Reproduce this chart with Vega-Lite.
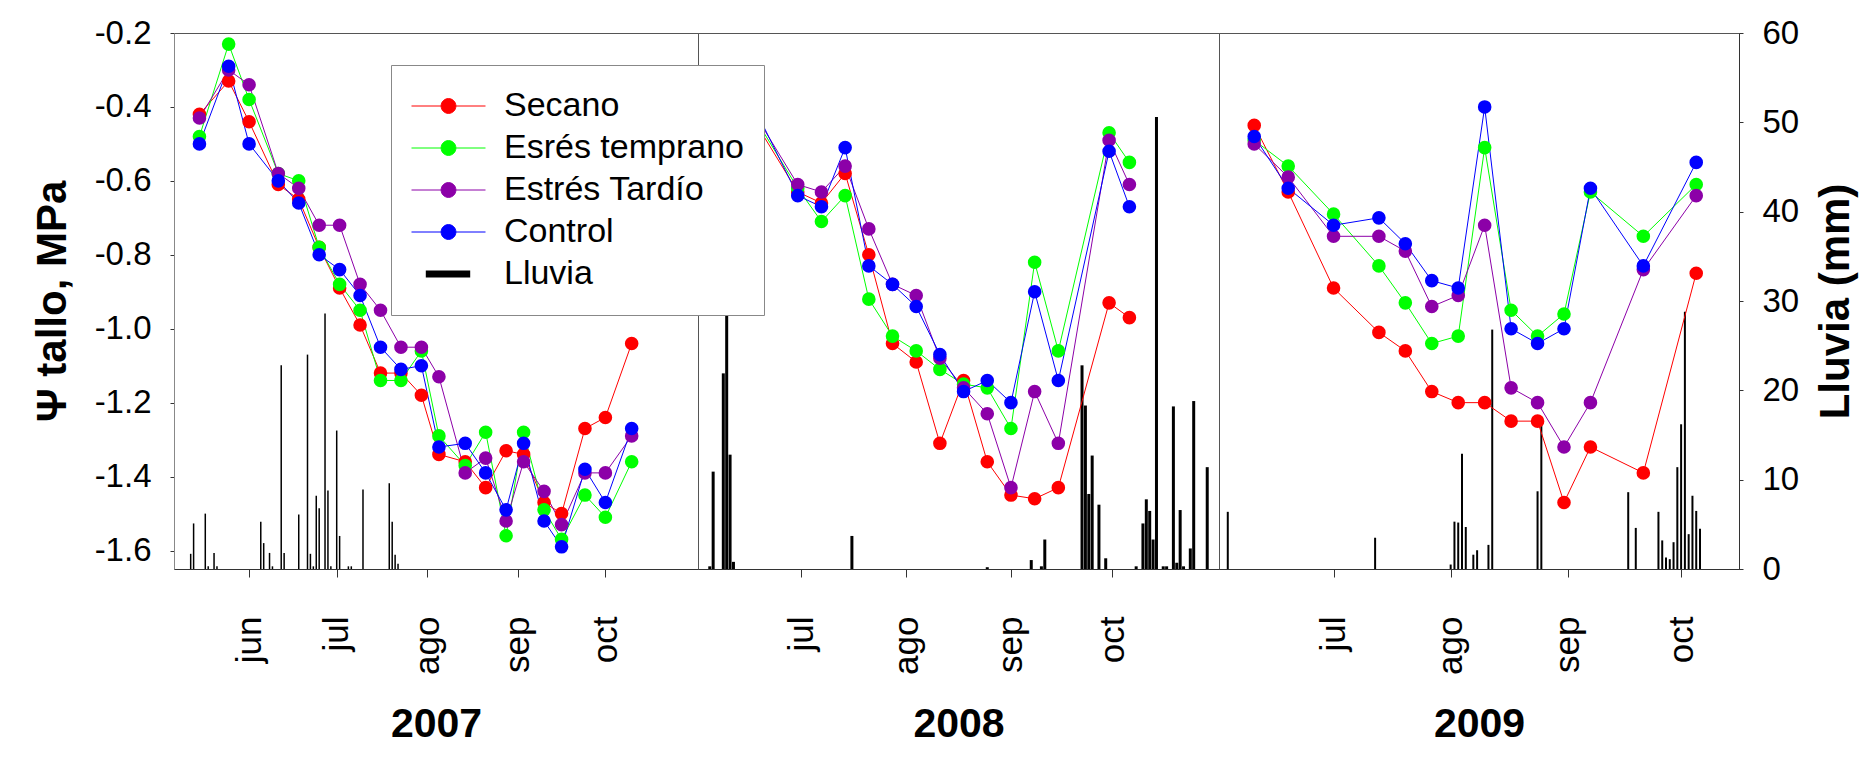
{
"$schema": "https://vega.github.io/schema/vega-lite/v6.json",
"padding": {"left": 30, "top": 16, "right": 4, "bottom": 4},
"background": "#ffffff",
"spacing": 0,
"bounds": "flush",
"datasets": {
"psi2007": [
{"fecha":"2007-05-15","serie":"Secano","psi":-0.42},{"fecha":"2007-05-25","serie":"Secano","psi":-0.33},{"fecha":"2007-06-01","serie":"Secano","psi":-0.44},{"fecha":"2007-06-11","serie":"Secano","psi":-0.61},{"fecha":"2007-06-18","serie":"Secano","psi":-0.65},{"fecha":"2007-06-25","serie":"Secano","psi":-0.78},{"fecha":"2007-07-02","serie":"Secano","psi":-0.89},{"fecha":"2007-07-09","serie":"Secano","psi":-0.99},{"fecha":"2007-07-16","serie":"Secano","psi":-1.12},{"fecha":"2007-07-23","serie":"Secano","psi":-1.12},{"fecha":"2007-07-30","serie":"Secano","psi":-1.18},{"fecha":"2007-08-05","serie":"Secano","psi":-1.34},{"fecha":"2007-08-14","serie":"Secano","psi":-1.36},{"fecha":"2007-08-21","serie":"Secano","psi":-1.43},{"fecha":"2007-08-28","serie":"Secano","psi":-1.33},{"fecha":"2007-09-03","serie":"Secano","psi":-1.34},{"fecha":"2007-09-10","serie":"Secano","psi":-1.47},{"fecha":"2007-09-16","serie":"Secano","psi":-1.50},{"fecha":"2007-09-24","serie":"Secano","psi":-1.27},{"fecha":"2007-10-01","serie":"Secano","psi":-1.24},{"fecha":"2007-10-10","serie":"Secano","psi":-1.04},
{"fecha":"2007-05-15","serie":"Esrés temprano","psi":-0.48},{"fecha":"2007-05-25","serie":"Esrés temprano","psi":-0.23},{"fecha":"2007-06-01","serie":"Esrés temprano","psi":-0.38},{"fecha":"2007-06-11","serie":"Esrés temprano","psi":-0.58},{"fecha":"2007-06-18","serie":"Esrés temprano","psi":-0.60},{"fecha":"2007-06-25","serie":"Esrés temprano","psi":-0.78},{"fecha":"2007-07-02","serie":"Esrés temprano","psi":-0.88},{"fecha":"2007-07-09","serie":"Esrés temprano","psi":-0.95},{"fecha":"2007-07-16","serie":"Esrés temprano","psi":-1.14},{"fecha":"2007-07-23","serie":"Esrés temprano","psi":-1.14},{"fecha":"2007-07-30","serie":"Esrés temprano","psi":-1.06},{"fecha":"2007-08-05","serie":"Esrés temprano","psi":-1.29},{"fecha":"2007-08-14","serie":"Esrés temprano","psi":-1.37},{"fecha":"2007-08-21","serie":"Esrés temprano","psi":-1.28},{"fecha":"2007-08-28","serie":"Esrés temprano","psi":-1.56},{"fecha":"2007-09-03","serie":"Esrés temprano","psi":-1.28},{"fecha":"2007-09-10","serie":"Esrés temprano","psi":-1.49},{"fecha":"2007-09-16","serie":"Esrés temprano","psi":-1.57},{"fecha":"2007-09-24","serie":"Esrés temprano","psi":-1.45},{"fecha":"2007-10-01","serie":"Esrés temprano","psi":-1.51},{"fecha":"2007-10-10","serie":"Esrés temprano","psi":-1.36},
{"fecha":"2007-05-15","serie":"Estrés Tardío","psi":-0.43},{"fecha":"2007-05-25","serie":"Estrés Tardío","psi":-0.30},{"fecha":"2007-06-01","serie":"Estrés Tardío","psi":-0.34},{"fecha":"2007-06-11","serie":"Estrés Tardío","psi":-0.58},{"fecha":"2007-06-18","serie":"Estrés Tardío","psi":-0.62},{"fecha":"2007-06-25","serie":"Estrés Tardío","psi":-0.72},{"fecha":"2007-07-02","serie":"Estrés Tardío","psi":-0.72},{"fecha":"2007-07-09","serie":"Estrés Tardío","psi":-0.88},{"fecha":"2007-07-16","serie":"Estrés Tardío","psi":-0.95},{"fecha":"2007-07-23","serie":"Estrés Tardío","psi":-1.05},{"fecha":"2007-07-30","serie":"Estrés Tardío","psi":-1.05},{"fecha":"2007-08-05","serie":"Estrés Tardío","psi":-1.13},{"fecha":"2007-08-14","serie":"Estrés Tardío","psi":-1.39},{"fecha":"2007-08-21","serie":"Estrés Tardío","psi":-1.35},{"fecha":"2007-08-28","serie":"Estrés Tardío","psi":-1.52},{"fecha":"2007-09-03","serie":"Estrés Tardío","psi":-1.36},{"fecha":"2007-09-10","serie":"Estrés Tardío","psi":-1.44},{"fecha":"2007-09-16","serie":"Estrés Tardío","psi":-1.53},{"fecha":"2007-09-24","serie":"Estrés Tardío","psi":-1.39},{"fecha":"2007-10-01","serie":"Estrés Tardío","psi":-1.39},{"fecha":"2007-10-10","serie":"Estrés Tardío","psi":-1.29},
{"fecha":"2007-05-15","serie":"Control","psi":-0.50},{"fecha":"2007-05-25","serie":"Control","psi":-0.29},{"fecha":"2007-06-01","serie":"Control","psi":-0.50},{"fecha":"2007-06-11","serie":"Control","psi":-0.60},{"fecha":"2007-06-18","serie":"Control","psi":-0.66},{"fecha":"2007-06-25","serie":"Control","psi":-0.80},{"fecha":"2007-07-02","serie":"Control","psi":-0.84},{"fecha":"2007-07-09","serie":"Control","psi":-0.91},{"fecha":"2007-07-16","serie":"Control","psi":-1.05},{"fecha":"2007-07-23","serie":"Control","psi":-1.11},{"fecha":"2007-07-30","serie":"Control","psi":-1.10},{"fecha":"2007-08-05","serie":"Control","psi":-1.32},{"fecha":"2007-08-14","serie":"Control","psi":-1.31},{"fecha":"2007-08-21","serie":"Control","psi":-1.39},{"fecha":"2007-08-28","serie":"Control","psi":-1.49},{"fecha":"2007-09-03","serie":"Control","psi":-1.31},{"fecha":"2007-09-10","serie":"Control","psi":-1.52},{"fecha":"2007-09-16","serie":"Control","psi":-1.59},{"fecha":"2007-09-24","serie":"Control","psi":-1.38},{"fecha":"2007-10-01","serie":"Control","psi":-1.47},{"fecha":"2007-10-10","serie":"Control","psi":-1.27}
],
"psi2008": [
{"fecha":"2008-06-16","serie":"Secano","psi":-0.42},{"fecha":"2008-06-30","serie":"Secano","psi":-0.63},{"fecha":"2008-07-07","serie":"Secano","psi":-0.66},{"fecha":"2008-07-14","serie":"Secano","psi":-0.58},{"fecha":"2008-07-21","serie":"Secano","psi":-0.80},{"fecha":"2008-07-28","serie":"Secano","psi":-1.04},{"fecha":"2008-08-04","serie":"Secano","psi":-1.09},{"fecha":"2008-08-11","serie":"Secano","psi":-1.31},{"fecha":"2008-08-18","serie":"Secano","psi":-1.14},{"fecha":"2008-08-25","serie":"Secano","psi":-1.36},{"fecha":"2008-09-01","serie":"Secano","psi":-1.45},{"fecha":"2008-09-08","serie":"Secano","psi":-1.46},{"fecha":"2008-09-15","serie":"Secano","psi":-1.43},{"fecha":"2008-09-30","serie":"Secano","psi":-0.93},{"fecha":"2008-10-06","serie":"Secano","psi":-0.97},
{"fecha":"2008-06-16","serie":"Esrés temprano","psi":-0.41},{"fecha":"2008-06-30","serie":"Esrés temprano","psi":-0.62},{"fecha":"2008-07-07","serie":"Esrés temprano","psi":-0.71},{"fecha":"2008-07-14","serie":"Esrés temprano","psi":-0.64},{"fecha":"2008-07-21","serie":"Esrés temprano","psi":-0.92},{"fecha":"2008-07-28","serie":"Esrés temprano","psi":-1.02},{"fecha":"2008-08-04","serie":"Esrés temprano","psi":-1.06},{"fecha":"2008-08-11","serie":"Esrés temprano","psi":-1.11},{"fecha":"2008-08-18","serie":"Esrés temprano","psi":-1.15},{"fecha":"2008-08-25","serie":"Esrés temprano","psi":-1.16},{"fecha":"2008-09-01","serie":"Esrés temprano","psi":-1.27},{"fecha":"2008-09-08","serie":"Esrés temprano","psi":-0.82},{"fecha":"2008-09-15","serie":"Esrés temprano","psi":-1.06},{"fecha":"2008-09-30","serie":"Esrés temprano","psi":-0.47},{"fecha":"2008-10-06","serie":"Esrés temprano","psi":-0.55},
{"fecha":"2008-06-16","serie":"Estrés Tardío","psi":-0.40},{"fecha":"2008-06-30","serie":"Estrés Tardío","psi":-0.61},{"fecha":"2008-07-07","serie":"Estrés Tardío","psi":-0.63},{"fecha":"2008-07-14","serie":"Estrés Tardío","psi":-0.56},{"fecha":"2008-07-21","serie":"Estrés Tardío","psi":-0.73},{"fecha":"2008-07-28","serie":"Estrés Tardío","psi":-0.88},{"fecha":"2008-08-04","serie":"Estrés Tardío","psi":-0.91},{"fecha":"2008-08-11","serie":"Estrés Tardío","psi":-1.08},{"fecha":"2008-08-18","serie":"Estrés Tardío","psi":-1.16},{"fecha":"2008-08-25","serie":"Estrés Tardío","psi":-1.23},{"fecha":"2008-09-01","serie":"Estrés Tardío","psi":-1.43},{"fecha":"2008-09-08","serie":"Estrés Tardío","psi":-1.17},{"fecha":"2008-09-15","serie":"Estrés Tardío","psi":-1.31},{"fecha":"2008-09-30","serie":"Estrés Tardío","psi":-0.49},{"fecha":"2008-10-06","serie":"Estrés Tardío","psi":-0.61},
{"fecha":"2008-06-16","serie":"Control","psi":-0.38},{"fecha":"2008-06-30","serie":"Control","psi":-0.64},{"fecha":"2008-07-07","serie":"Control","psi":-0.67},{"fecha":"2008-07-14","serie":"Control","psi":-0.51},{"fecha":"2008-07-21","serie":"Control","psi":-0.83},{"fecha":"2008-07-28","serie":"Control","psi":-0.88},{"fecha":"2008-08-04","serie":"Control","psi":-0.94},{"fecha":"2008-08-11","serie":"Control","psi":-1.07},{"fecha":"2008-08-18","serie":"Control","psi":-1.17},{"fecha":"2008-08-25","serie":"Control","psi":-1.14},{"fecha":"2008-09-01","serie":"Control","psi":-1.20},{"fecha":"2008-09-08","serie":"Control","psi":-0.90},{"fecha":"2008-09-15","serie":"Control","psi":-1.14},{"fecha":"2008-09-30","serie":"Control","psi":-0.52},{"fecha":"2008-10-06","serie":"Control","psi":-0.67}
],
"psi2009": [
{"fecha":"2009-06-10","serie":"Secano","psi":-0.45},{"fecha":"2009-06-19","serie":"Secano","psi":-0.63},{"fecha":"2009-07-01","serie":"Secano","psi":-0.89},{"fecha":"2009-07-13","serie":"Secano","psi":-1.01},{"fecha":"2009-07-20","serie":"Secano","psi":-1.06},{"fecha":"2009-07-27","serie":"Secano","psi":-1.17},{"fecha":"2009-08-03","serie":"Secano","psi":-1.20},{"fecha":"2009-08-10","serie":"Secano","psi":-1.20},{"fecha":"2009-08-17","serie":"Secano","psi":-1.25},{"fecha":"2009-08-24","serie":"Secano","psi":-1.25},{"fecha":"2009-08-31","serie":"Secano","psi":-1.47},{"fecha":"2009-09-07","serie":"Secano","psi":-1.32},{"fecha":"2009-09-21","serie":"Secano","psi":-1.39},{"fecha":"2009-10-05","serie":"Secano","psi":-0.85},
{"fecha":"2009-06-10","serie":"Esrés temprano","psi":-0.49},{"fecha":"2009-06-19","serie":"Esrés temprano","psi":-0.56},{"fecha":"2009-07-01","serie":"Esrés temprano","psi":-0.69},{"fecha":"2009-07-13","serie":"Esrés temprano","psi":-0.83},{"fecha":"2009-07-20","serie":"Esrés temprano","psi":-0.93},{"fecha":"2009-07-27","serie":"Esrés temprano","psi":-1.04},{"fecha":"2009-08-03","serie":"Esrés temprano","psi":-1.02},{"fecha":"2009-08-10","serie":"Esrés temprano","psi":-0.51},{"fecha":"2009-08-17","serie":"Esrés temprano","psi":-0.95},{"fecha":"2009-08-24","serie":"Esrés temprano","psi":-1.02},{"fecha":"2009-08-31","serie":"Esrés temprano","psi":-0.96},{"fecha":"2009-09-07","serie":"Esrés temprano","psi":-0.63},{"fecha":"2009-09-21","serie":"Esrés temprano","psi":-0.75},{"fecha":"2009-10-05","serie":"Esrés temprano","psi":-0.61},
{"fecha":"2009-06-10","serie":"Estrés Tardío","psi":-0.50},{"fecha":"2009-06-19","serie":"Estrés Tardío","psi":-0.59},{"fecha":"2009-07-01","serie":"Estrés Tardío","psi":-0.75},{"fecha":"2009-07-13","serie":"Estrés Tardío","psi":-0.75},{"fecha":"2009-07-20","serie":"Estrés Tardío","psi":-0.79},{"fecha":"2009-07-27","serie":"Estrés Tardío","psi":-0.94},{"fecha":"2009-08-03","serie":"Estrés Tardío","psi":-0.91},{"fecha":"2009-08-10","serie":"Estrés Tardío","psi":-0.72},{"fecha":"2009-08-17","serie":"Estrés Tardío","psi":-1.16},{"fecha":"2009-08-24","serie":"Estrés Tardío","psi":-1.20},{"fecha":"2009-08-31","serie":"Estrés Tardío","psi":-1.32},{"fecha":"2009-09-07","serie":"Estrés Tardío","psi":-1.20},{"fecha":"2009-09-21","serie":"Estrés Tardío","psi":-0.84},{"fecha":"2009-10-05","serie":"Estrés Tardío","psi":-0.64},
{"fecha":"2009-06-10","serie":"Control","psi":-0.48},{"fecha":"2009-06-19","serie":"Control","psi":-0.62},{"fecha":"2009-07-01","serie":"Control","psi":-0.72},{"fecha":"2009-07-13","serie":"Control","psi":-0.70},{"fecha":"2009-07-20","serie":"Control","psi":-0.77},{"fecha":"2009-07-27","serie":"Control","psi":-0.87},{"fecha":"2009-08-03","serie":"Control","psi":-0.89},{"fecha":"2009-08-10","serie":"Control","psi":-0.40},{"fecha":"2009-08-17","serie":"Control","psi":-1.00},{"fecha":"2009-08-24","serie":"Control","psi":-1.04},{"fecha":"2009-08-31","serie":"Control","psi":-1.00},{"fecha":"2009-09-07","serie":"Control","psi":-0.62},{"fecha":"2009-09-21","serie":"Control","psi":-0.83},{"fecha":"2009-10-05","serie":"Control","psi":-0.55}
],
"lluvia2007": [
{"fecha":"2007-05-12","mm":1.7},{"fecha":"2007-05-13","mm":5.1},{"fecha":"2007-05-17","mm":6.2},{"fecha":"2007-05-18","mm":0.3},{"fecha":"2007-05-20","mm":1.8},{"fecha":"2007-05-21","mm":0.3},{"fecha":"2007-06-05","mm":5.3},{"fecha":"2007-06-06","mm":2.9},{"fecha":"2007-06-08","mm":1.8},{"fecha":"2007-06-09","mm":0.3},{"fecha":"2007-06-12","mm":22.8},{"fecha":"2007-06-13","mm":1.8},{"fecha":"2007-06-18","mm":6.1},{"fecha":"2007-06-21","mm":24.0},{"fecha":"2007-06-22","mm":1.7},{"fecha":"2007-06-23","mm":0.3},{"fecha":"2007-06-24","mm":8.2},{"fecha":"2007-06-25","mm":6.8},{"fecha":"2007-06-27","mm":28.6},{"fecha":"2007-06-28","mm":8.8},{"fecha":"2007-06-29","mm":0.3},{"fecha":"2007-07-01","mm":15.5},{"fecha":"2007-07-02","mm":3.7},{"fecha":"2007-07-05","mm":0.3},{"fecha":"2007-07-06","mm":0.3},{"fecha":"2007-07-10","mm":8.9},{"fecha":"2007-07-19","mm":9.6},{"fecha":"2007-07-20","mm":5.3},{"fecha":"2007-07-21","mm":1.6},{"fecha":"2007-07-22","mm":0.6}
],
"lluvia2008": [
{"fecha":"2008-06-04","mm":0.3},{"fecha":"2008-06-05","mm":10.9},{"fecha":"2008-06-08","mm":21.9},{"fecha":"2008-06-09","mm":33.0},{"fecha":"2008-06-10","mm":12.8},{"fecha":"2008-06-11","mm":0.8},{"fecha":"2008-07-16","mm":3.7},{"fecha":"2008-08-25","mm":0.2},{"fecha":"2008-09-07","mm":1.0},{"fecha":"2008-09-10","mm":0.3},{"fecha":"2008-09-11","mm":3.3},{"fecha":"2008-09-22","mm":22.8},{"fecha":"2008-09-23","mm":18.3},{"fecha":"2008-09-24","mm":8.4},{"fecha":"2008-09-25","mm":12.7},{"fecha":"2008-09-27","mm":7.2},{"fecha":"2008-09-29","mm":1.2},{"fecha":"2008-10-08","mm":0.3},{"fecha":"2008-10-10","mm":5.1},{"fecha":"2008-10-11","mm":7.8},{"fecha":"2008-10-12","mm":6.5},{"fecha":"2008-10-13","mm":3.3},{"fecha":"2008-10-14","mm":50.6},{"fecha":"2008-10-16","mm":0.3},{"fecha":"2008-10-17","mm":0.3},{"fecha":"2008-10-19","mm":18.2},{"fecha":"2008-10-20","mm":0.7},{"fecha":"2008-10-21","mm":6.6},{"fecha":"2008-10-22","mm":0.3},{"fecha":"2008-10-24","mm":2.3},{"fecha":"2008-10-25","mm":18.8},{"fecha":"2008-10-29","mm":11.4}
],
"lluvia2009": [
{"fecha":"2009-06-03","mm":6.4},{"fecha":"2009-07-12","mm":3.5},{"fecha":"2009-08-01","mm":0.5},{"fecha":"2009-08-02","mm":5.3},{"fecha":"2009-08-03","mm":5.2},{"fecha":"2009-08-04","mm":12.9},{"fecha":"2009-08-05","mm":4.7},{"fecha":"2009-08-07","mm":1.6},{"fecha":"2009-08-08","mm":2.1},{"fecha":"2009-08-11","mm":2.7},{"fecha":"2009-08-12","mm":26.8},{"fecha":"2009-08-24","mm":8.7},{"fecha":"2009-08-25","mm":16.7},{"fecha":"2009-09-17","mm":8.6},{"fecha":"2009-09-19","mm":4.6},{"fecha":"2009-09-25","mm":6.4},{"fecha":"2009-09-26","mm":3.2},{"fecha":"2009-09-27","mm":1.3},{"fecha":"2009-09-28","mm":1.1},{"fecha":"2009-09-29","mm":3.0},{"fecha":"2009-09-30","mm":11.4},{"fecha":"2009-10-01","mm":16.2},{"fecha":"2009-10-02","mm":28.8},{"fecha":"2009-10-03","mm":3.9},{"fecha":"2009-10-04","mm":8.2},{"fecha":"2009-10-05","mm":6.5},{"fecha":"2009-10-06","mm":4.5}
]
},
"hconcat": [
{
"width": 524, "height": 536,
"layer": [
{"data": {"name": "lluvia2007"}, "mark": {"type": "bar", "width": 1.5, "color": "#000000"},
"encoding": {
"x": {"field": "fecha", "type": "temporal", "scale": {"type": "utc", "nice": false, "domain": [{"year": 2007, "month": 5, "date": 8, "utc": true}, {"year": 2007, "month": 10, "date": 31, "utc": true}]},
"axis": {"values": [{"year": 2007, "month": 6, "date": 1, "utc": true}, {"year": 2007, "month": 7, "date": 1, "utc": true}, {"year": 2007, "month": 8, "date": 1, "utc": true}, {"year": 2007, "month": 9, "date": 1, "utc": true}, {"year": 2007, "month": 10, "date": 1, "utc": true}], "labelExpr": "['ene','feb','mar','abr','may','jun','jul','ago','sep','oct','nov','dic'][utcmonth(datum.value)]", "labelAngle": 270, "labelAlign": "right", "labelBaseline": "middle", "labelFontSize": 35, "labelPadding": 39, "tickSize": 8, "title": "2007", "titleFontSize": 41, "titleFontWeight": "bold", "titlePadding": 30}},
"y": {"field": "mm", "type": "quantitative", "scale": {"domain": [0, 60], "nice": false}, "axis": null},
"opacity": {"datum": "Lluvia", "type": "nominal", "scale": {"type": "ordinal", "domain": ["Lluvia"], "range": [1]},
"legend": {"title": null, "orient": "none", "legendX": 237, "legendY": 236, "padding": 0, "symbolType": "M-0.6,-0.095H0.6V0.095H-0.6Z", "symbolSize": 5476, "symbolStrokeWidth": 0, "clipHeight": 10, "labelExpr": "''", "labelOffset": 0, "zindex": 2}}}},
{"data": {"name": "psi2007"},
"layer": [
{"mark": {"type": "line", "strokeWidth": 1},
"encoding": {
"x": {"field": "fecha", "type": "temporal", "scale": {"type": "utc", "nice": false, "domain": [{"year": 2007, "month": 5, "date": 8, "utc": true}, {"year": 2007, "month": 10, "date": 31, "utc": true}]},
"axis": {"values": [{"year": 2007, "month": 6, "date": 1, "utc": true}, {"year": 2007, "month": 7, "date": 1, "utc": true}, {"year": 2007, "month": 8, "date": 1, "utc": true}, {"year": 2007, "month": 9, "date": 1, "utc": true}, {"year": 2007, "month": 10, "date": 1, "utc": true}], "labelExpr": "['ene','feb','mar','abr','may','jun','jul','ago','sep','oct','nov','dic'][utcmonth(datum.value)]", "labelAngle": 270, "labelAlign": "right", "labelBaseline": "middle", "labelFontSize": 35, "labelPadding": 39, "tickSize": 8, "title": "2007", "titleFontSize": 41, "titleFontWeight": "bold", "titlePadding": 30}},
"y": {"field": "psi", "type": "quantitative", "scale": {"domain": [-1.65, -0.2], "nice": false, "zero": false},
"axis": {"orient": "left", "values": [-1.6, -1.4, -1.2, -1.0, -0.8, -0.6, -0.4, -0.2], "labelExpr": "(datum.value < 0 ? '-' : '') + format(abs(datum.value), '.1f')", "labelFontSize": 33, "tickSize": 4, "labelPadding": 19, "title": "Ψ tallo, MPa", "titleFontSize": 42, "titleFontWeight": "bold", "titlePadding": 20, "domainColor": "#888888"}},
"color": {"field": "serie", "type": "nominal", "scale": {"domain": ["Secano", "Esrés temprano", "Estrés Tardío", "Control", "Lluvia"], "range": ["#ff0000", "#00ff00", "#8c00a8", "#0000ff", "transparent"]},
"legend": {"title": null, "orient": "none", "legendX": 217, "legendY": 32, "padding": 20, "strokeColor": "#888888", "fillColor": "#ffffff", "symbolType": "M-1,0H1M-0.2,0A0.2,0.2,0,1,1,0.2,0A0.2,0.2,0,1,1,-0.2,0Z", "symbolSize": 5476, "symbolStrokeWidth": 1, "labelFontSize": 34, "labelFont": "Liberation Sans", "labelColor": "#000000", "labelOffset": 18, "clipHeight": 42, "rowPadding": 0, "labelLimit": 500, "zindex": 1}}}},
{"mark": {"type": "point", "filled": true, "size": 185, "opacity": 1},
"encoding": {
"x": {"field": "fecha", "type": "temporal", "scale": {"type": "utc", "nice": false, "domain": [{"year": 2007, "month": 5, "date": 8, "utc": true}, {"year": 2007, "month": 10, "date": 31, "utc": true}]},
"axis": {"values": [{"year": 2007, "month": 6, "date": 1, "utc": true}, {"year": 2007, "month": 7, "date": 1, "utc": true}, {"year": 2007, "month": 8, "date": 1, "utc": true}, {"year": 2007, "month": 9, "date": 1, "utc": true}, {"year": 2007, "month": 10, "date": 1, "utc": true}], "labelExpr": "['ene','feb','mar','abr','may','jun','jul','ago','sep','oct','nov','dic'][utcmonth(datum.value)]", "labelAngle": 270, "labelAlign": "right", "labelBaseline": "middle", "labelFontSize": 35, "labelPadding": 39, "tickSize": 8, "title": "2007", "titleFontSize": 41, "titleFontWeight": "bold", "titlePadding": 30}},
"y": {"field": "psi", "type": "quantitative", "scale": {"domain": [-1.65, -0.2], "nice": false, "zero": false},
"axis": {"orient": "left", "values": [-1.6, -1.4, -1.2, -1.0, -0.8, -0.6, -0.4, -0.2], "labelExpr": "(datum.value < 0 ? '-' : '') + format(abs(datum.value), '.1f')", "labelFontSize": 33, "tickSize": 4, "labelPadding": 19, "title": "Ψ tallo, MPa", "titleFontSize": 42, "titleFontWeight": "bold", "titlePadding": 20, "domainColor": "#888888"}},
"color": {"field": "serie", "type": "nominal", "scale": {"domain": ["Secano", "Esrés temprano", "Estrés Tardío", "Control", "Lluvia"], "range": ["#ff0000", "#00ff00", "#8c00a8", "#0000ff", "transparent"]},
"legend": {"title": null, "orient": "none", "legendX": 217, "legendY": 32, "padding": 20, "strokeColor": "#888888", "fillColor": "#ffffff", "symbolType": "M-1,0H1M-0.2,0A0.2,0.2,0,1,1,0.2,0A0.2,0.2,0,1,1,-0.2,0Z", "symbolSize": 5476, "symbolStrokeWidth": 1, "labelFontSize": 34, "labelFont": "Liberation Sans", "labelColor": "#000000", "labelOffset": 18, "clipHeight": 42, "rowPadding": 0, "labelLimit": 500, "zindex": 1}}}}
]}
],
"resolve": {"scale": {"y": "independent"}}
},
{
"width": 521, "height": 536,
"layer": [
{"data": {"name": "lluvia2008"}, "mark": {"type": "bar", "width": 3, "color": "#000000"},
"encoding": {
"x": {"field": "fecha", "type": "temporal", "scale": {"type": "utc", "nice": false, "domain": [{"year": 2008, "month": 6, "date": 2, "utc": true}, {"year": 2008, "month": 10, "date": 31, "utc": true}]},
"axis": {"values": [{"year": 2008, "month": 7, "date": 1, "utc": true}, {"year": 2008, "month": 8, "date": 1, "utc": true}, {"year": 2008, "month": 9, "date": 1, "utc": true}, {"year": 2008, "month": 10, "date": 1, "utc": true}], "labelExpr": "['ene','feb','mar','abr','may','jun','jul','ago','sep','oct','nov','dic'][utcmonth(datum.value)]", "labelAngle": 270, "labelAlign": "right", "labelBaseline": "middle", "labelFontSize": 35, "labelPadding": 39, "tickSize": 8, "title": "2008", "titleFontSize": 41, "titleFontWeight": "bold", "titlePadding": 30}},
"y": {"field": "mm", "type": "quantitative", "scale": {"domain": [0, 60], "nice": false}, "axis": null},
"opacity": {"datum": "Lluvia", "type": "nominal", "scale": {"type": "ordinal", "domain": ["Lluvia"], "range": [1]},
"legend": {"title": null, "orient": "none", "legendX": 237, "legendY": 236, "padding": 0, "symbolType": "M-0.6,-0.095H0.6V0.095H-0.6Z", "symbolSize": 5476, "symbolStrokeWidth": 0, "clipHeight": 10, "labelExpr": "''", "labelOffset": 0, "zindex": 2}}}},
{"data": {"name": "psi2008"},
"layer": [
{"mark": {"type": "line", "strokeWidth": 1},
"encoding": {
"x": {"field": "fecha", "type": "temporal", "scale": {"type": "utc", "nice": false, "domain": [{"year": 2008, "month": 6, "date": 2, "utc": true}, {"year": 2008, "month": 10, "date": 31, "utc": true}]},
"axis": {"values": [{"year": 2008, "month": 7, "date": 1, "utc": true}, {"year": 2008, "month": 8, "date": 1, "utc": true}, {"year": 2008, "month": 9, "date": 1, "utc": true}, {"year": 2008, "month": 10, "date": 1, "utc": true}], "labelExpr": "['ene','feb','mar','abr','may','jun','jul','ago','sep','oct','nov','dic'][utcmonth(datum.value)]", "labelAngle": 270, "labelAlign": "right", "labelBaseline": "middle", "labelFontSize": 35, "labelPadding": 39, "tickSize": 8, "title": "2008", "titleFontSize": 41, "titleFontWeight": "bold", "titlePadding": 30}},
"y": {"field": "psi", "type": "quantitative", "scale": {"domain": [-1.65, -0.2], "nice": false, "zero": false}, "axis": null},
"color": {"field": "serie", "type": "nominal", "scale": {"domain": ["Secano", "Esrés temprano", "Estrés Tardío", "Control", "Lluvia"], "range": ["#ff0000", "#00ff00", "#8c00a8", "#0000ff", "transparent"]},
"legend": {"title": null, "orient": "none", "legendX": 217, "legendY": 32, "padding": 20, "strokeColor": "#888888", "fillColor": "#ffffff", "symbolType": "M-1,0H1M-0.2,0A0.2,0.2,0,1,1,0.2,0A0.2,0.2,0,1,1,-0.2,0Z", "symbolSize": 5476, "symbolStrokeWidth": 1, "labelFontSize": 34, "labelFont": "Liberation Sans", "labelColor": "#000000", "labelOffset": 18, "clipHeight": 42, "rowPadding": 0, "labelLimit": 500, "zindex": 1}}}},
{"mark": {"type": "point", "filled": true, "size": 185, "opacity": 1},
"encoding": {
"x": {"field": "fecha", "type": "temporal", "scale": {"type": "utc", "nice": false, "domain": [{"year": 2008, "month": 6, "date": 2, "utc": true}, {"year": 2008, "month": 10, "date": 31, "utc": true}]},
"axis": {"values": [{"year": 2008, "month": 7, "date": 1, "utc": true}, {"year": 2008, "month": 8, "date": 1, "utc": true}, {"year": 2008, "month": 9, "date": 1, "utc": true}, {"year": 2008, "month": 10, "date": 1, "utc": true}], "labelExpr": "['ene','feb','mar','abr','may','jun','jul','ago','sep','oct','nov','dic'][utcmonth(datum.value)]", "labelAngle": 270, "labelAlign": "right", "labelBaseline": "middle", "labelFontSize": 35, "labelPadding": 39, "tickSize": 8, "title": "2008", "titleFontSize": 41, "titleFontWeight": "bold", "titlePadding": 30}},
"y": {"field": "psi", "type": "quantitative", "scale": {"domain": [-1.65, -0.2], "nice": false, "zero": false}, "axis": null},
"color": {"field": "serie", "type": "nominal", "scale": {"domain": ["Secano", "Esrés temprano", "Estrés Tardío", "Control", "Lluvia"], "range": ["#ff0000", "#00ff00", "#8c00a8", "#0000ff", "transparent"]},
"legend": {"title": null, "orient": "none", "legendX": 217, "legendY": 32, "padding": 20, "strokeColor": "#888888", "fillColor": "#ffffff", "symbolType": "M-1,0H1M-0.2,0A0.2,0.2,0,1,1,0.2,0A0.2,0.2,0,1,1,-0.2,0Z", "symbolSize": 5476, "symbolStrokeWidth": 1, "labelFontSize": 34, "labelFont": "Liberation Sans", "labelColor": "#000000", "labelOffset": 18, "clipHeight": 42, "rowPadding": 0, "labelLimit": 500, "zindex": 1}}}}
]}
],
"resolve": {"scale": {"y": "independent"}}
},
{
"width": 520, "height": 536,
"layer": [
{"data": {"name": "lluvia2009"}, "mark": {"type": "bar", "width": 2, "color": "#000000"},
"encoding": {
"x": {"field": "fecha", "type": "temporal", "scale": {"type": "utc", "nice": false, "domain": [{"year": 2009, "month": 6, "date": 2, "utc": true}, {"year": 2009, "month": 10, "date": 15, "utc": true}]},
"axis": {"values": [{"year": 2009, "month": 7, "date": 1, "utc": true}, {"year": 2009, "month": 8, "date": 1, "utc": true}, {"year": 2009, "month": 9, "date": 1, "utc": true}, {"year": 2009, "month": 10, "date": 1, "utc": true}], "labelExpr": "['ene','feb','mar','abr','may','jun','jul','ago','sep','oct','nov','dic'][utcmonth(datum.value)]", "labelAngle": 270, "labelAlign": "right", "labelBaseline": "middle", "labelFontSize": 35, "labelPadding": 39, "tickSize": 8, "title": "2009", "titleFontSize": 41, "titleFontWeight": "bold", "titlePadding": 30}},
"y": {"field": "mm", "type": "quantitative", "scale": {"domain": [0, 60], "nice": false},
"axis": {"orient": "right", "values": [0, 10, 20, 30, 40, 50, 60], "labelFontSize": 33, "tickSize": 4, "labelPadding": 19, "title": "Lluvia (mm)", "titleFontSize": 42, "titleFontWeight": "bold", "titleAngle": 270, "titleBaseline": "top", "titlePadding": 17}},
"opacity": {"datum": "Lluvia", "type": "nominal", "scale": {"type": "ordinal", "domain": ["Lluvia"], "range": [1]},
"legend": {"title": null, "orient": "none", "legendX": 237, "legendY": 236, "padding": 0, "symbolType": "M-0.6,-0.095H0.6V0.095H-0.6Z", "symbolSize": 5476, "symbolStrokeWidth": 0, "clipHeight": 10, "labelExpr": "''", "labelOffset": 0, "zindex": 2}}}},
{"data": {"name": "psi2009"},
"layer": [
{"mark": {"type": "line", "strokeWidth": 1},
"encoding": {
"x": {"field": "fecha", "type": "temporal", "scale": {"type": "utc", "nice": false, "domain": [{"year": 2009, "month": 6, "date": 2, "utc": true}, {"year": 2009, "month": 10, "date": 15, "utc": true}]},
"axis": {"values": [{"year": 2009, "month": 7, "date": 1, "utc": true}, {"year": 2009, "month": 8, "date": 1, "utc": true}, {"year": 2009, "month": 9, "date": 1, "utc": true}, {"year": 2009, "month": 10, "date": 1, "utc": true}], "labelExpr": "['ene','feb','mar','abr','may','jun','jul','ago','sep','oct','nov','dic'][utcmonth(datum.value)]", "labelAngle": 270, "labelAlign": "right", "labelBaseline": "middle", "labelFontSize": 35, "labelPadding": 39, "tickSize": 8, "title": "2009", "titleFontSize": 41, "titleFontWeight": "bold", "titlePadding": 30}},
"y": {"field": "psi", "type": "quantitative", "scale": {"domain": [-1.65, -0.2], "nice": false, "zero": false}, "axis": null},
"color": {"field": "serie", "type": "nominal", "scale": {"domain": ["Secano", "Esrés temprano", "Estrés Tardío", "Control", "Lluvia"], "range": ["#ff0000", "#00ff00", "#8c00a8", "#0000ff", "transparent"]},
"legend": {"title": null, "orient": "none", "legendX": 217, "legendY": 32, "padding": 20, "strokeColor": "#888888", "fillColor": "#ffffff", "symbolType": "M-1,0H1M-0.2,0A0.2,0.2,0,1,1,0.2,0A0.2,0.2,0,1,1,-0.2,0Z", "symbolSize": 5476, "symbolStrokeWidth": 1, "labelFontSize": 34, "labelFont": "Liberation Sans", "labelColor": "#000000", "labelOffset": 18, "clipHeight": 42, "rowPadding": 0, "labelLimit": 500, "zindex": 1}}}},
{"mark": {"type": "point", "filled": true, "size": 185, "opacity": 1},
"encoding": {
"x": {"field": "fecha", "type": "temporal", "scale": {"type": "utc", "nice": false, "domain": [{"year": 2009, "month": 6, "date": 2, "utc": true}, {"year": 2009, "month": 10, "date": 15, "utc": true}]},
"axis": {"values": [{"year": 2009, "month": 7, "date": 1, "utc": true}, {"year": 2009, "month": 8, "date": 1, "utc": true}, {"year": 2009, "month": 9, "date": 1, "utc": true}, {"year": 2009, "month": 10, "date": 1, "utc": true}], "labelExpr": "['ene','feb','mar','abr','may','jun','jul','ago','sep','oct','nov','dic'][utcmonth(datum.value)]", "labelAngle": 270, "labelAlign": "right", "labelBaseline": "middle", "labelFontSize": 35, "labelPadding": 39, "tickSize": 8, "title": "2009", "titleFontSize": 41, "titleFontWeight": "bold", "titlePadding": 30}},
"y": {"field": "psi", "type": "quantitative", "scale": {"domain": [-1.65, -0.2], "nice": false, "zero": false}, "axis": null},
"color": {"field": "serie", "type": "nominal", "scale": {"domain": ["Secano", "Esrés temprano", "Estrés Tardío", "Control", "Lluvia"], "range": ["#ff0000", "#00ff00", "#8c00a8", "#0000ff", "transparent"]},
"legend": {"title": null, "orient": "none", "legendX": 217, "legendY": 32, "padding": 20, "strokeColor": "#888888", "fillColor": "#ffffff", "symbolType": "M-1,0H1M-0.2,0A0.2,0.2,0,1,1,0.2,0A0.2,0.2,0,1,1,-0.2,0Z", "symbolSize": 5476, "symbolStrokeWidth": 1, "labelFontSize": 34, "labelFont": "Liberation Sans", "labelColor": "#000000", "labelOffset": 18, "clipHeight": 42, "rowPadding": 0, "labelLimit": 500, "zindex": 1}}}}
]}
],
"resolve": {"scale": {"y": "independent"}}
}
],
"resolve": {"scale": {"color": "shared", "opacity": "shared"}, "legend": {"color": "shared", "opacity": "shared"}},
"config": {
"font": "Liberation Sans",
"view": {"stroke": "#555555", "strokeWidth": 1},
"axis": {"labelFont": "Liberation Sans", "titleFont": "Liberation Sans", "labelColor": "#000000", "titleColor": "#000000", "grid": false, "domainColor": "#333333", "tickColor": "#333333", "labelOverlap": false, "labelFlush": false}
}
}
